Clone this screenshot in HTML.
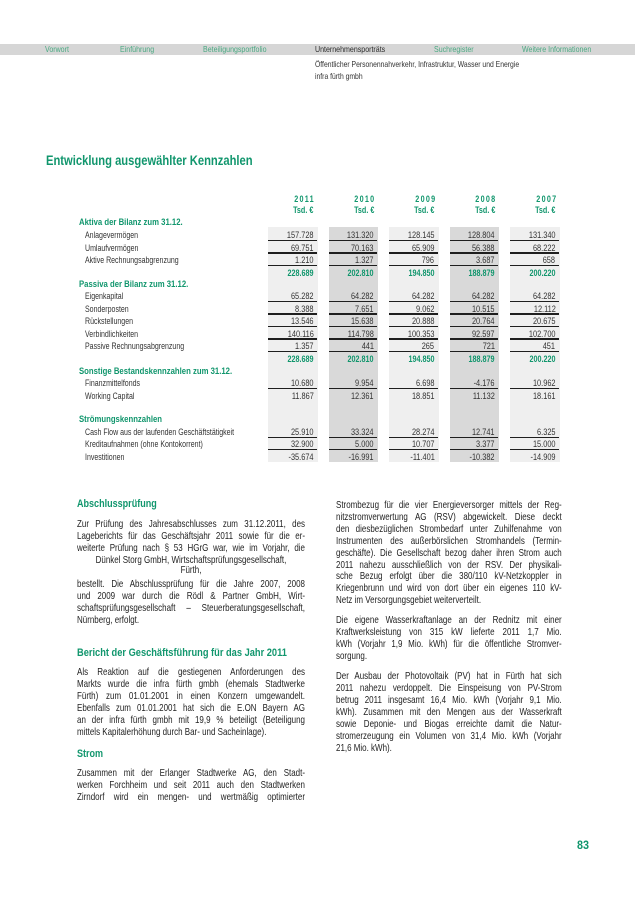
<!DOCTYPE html>
<html><head><meta charset="utf-8">
<style>
body{margin:0;width:635px;height:898px;background:#fff;position:relative;overflow:hidden;font-family:"Liberation Sans",Arial,sans-serif;color:#2a2a2a}
.a{position:absolute;white-space:nowrap}
.nav{position:absolute;top:44px;line-height:11px;font-size:8.5px;color:#4aa982;transform:scaleX(.83);transform-origin:0 0;white-space:nowrap}
.sub{position:absolute;left:315px;font-size:8.5px;line-height:12px;color:#333;transform:scaleX(.8);transform-origin:0 0;white-space:nowrap}
.bg{position:absolute;top:227px;height:235px;width:49.5px}
.r{position:absolute;left:0;width:635px;height:12px}
.r span{position:absolute;top:0;line-height:12px;font-size:9px;white-space:nowrap}
.lb{left:85px;transform:scaleX(.78);transform-origin:0 0;color:#333}
.hd{left:79px;transform:scaleX(.86);transform-origin:0 0;color:#11966d;font-weight:bold}
.n{transform:scaleX(.82);transform-origin:100% 0;color:#333}
.tt .n{font-weight:bold;color:#11966d;transform:scaleX(.8)}
.yr .n{font-weight:bold;color:#11966d;transform:scaleX(.8)}
.c1{right:321.5px}.c2{right:261px}.c3{right:200.5px}.c4{right:140px}.c5{right:79.5px}
.u{position:absolute;top:10.8px;height:1.3px;width:48.5px;background:#1e1e1e}
.u1{left:268px}.u2{left:328.5px}.u3{left:389px}.u4{left:449.5px}.u5{left:510px}
.col{position:absolute;top:0;height:898px;transform:scaleX(.76);transform-origin:0 0;font-size:10.5px;color:#222}
.col div{position:absolute;left:0;width:100%;height:12px;line-height:12px;text-align:justify;text-align-last:justify;white-space:normal}
.col div.l{text-align:left;text-align-last:left}
.col div.c{text-align:center;text-align-last:center}
.col div.h{font-size:11px;font-weight:bold;color:#11966d;line-height:14px;height:14px;text-align:left;text-align-last:left;transform:scaleX(1.08);transform-origin:0 0;white-space:nowrap}
</style></head><body>

<div class="a" style="left:0;top:44px;width:635px;height:11px;background:#d6d6d6"></div>
<div class="nav" style="left:45px">Vorwort</div>
<div class="nav" style="left:120px">Einführung</div>
<div class="nav" style="left:203px">Beteiligungsportfolio</div>
<div class="nav" style="left:315px;color:#2a2a2a">Unternehmensporträts</div>
<div class="nav" style="left:434px">Suchregister</div>
<div class="nav" style="left:522px">Weitere Informationen</div>
<div class="sub" style="top:58px">Öffentlicher Personennahverkehr, Infrastruktur, Wasser und Energie</div>
<div class="sub" style="top:70px">infra fürth gmbh</div>

<div class="a" style="left:46px;top:151px;font-size:14px;line-height:18px;font-weight:bold;color:#11966d;transform:scaleX(.8);transform-origin:0 0">Entwicklung ausgewählter Kennzahlen</div>

<div class="bg" style="left:268px;background:#efefef"></div>
<div class="bg" style="left:328.5px;background:#d9d9d9"></div>
<div class="bg" style="left:389px;background:#efefef"></div>
<div class="bg" style="left:449.5px;background:#d9d9d9"></div>
<div class="bg" style="left:510px;background:#efefef"></div>

<div class="r yr" style="top:193px"><span class="n c1" style="letter-spacing:1.6px;margin-right:-1.6px">2011</span><span class="n c2" style="letter-spacing:1.6px;margin-right:-1.6px">2010</span><span class="n c3" style="letter-spacing:1.6px;margin-right:-1.6px">2009</span><span class="n c4" style="letter-spacing:1.6px;margin-right:-1.6px">2008</span><span class="n c5" style="letter-spacing:1.6px;margin-right:-1.6px">2007</span></div>
<div class="r yr" style="top:204px"><span class="n c1">Tsd. €</span><span class="n c2">Tsd. €</span><span class="n c3">Tsd. €</span><span class="n c4">Tsd. €</span><span class="n c5">Tsd. €</span></div>

<div class="r" style="top:215.7px"><span class="hd">Aktiva der Bilanz zum 31.12.</span></div>
<div class="r" style="top:229px"><span class="lb">Anlagevermögen</span><span class="n c1">157.728</span><span class="n c2">131.320</span><span class="n c3">128.145</span><span class="n c4">128.804</span><span class="n c5">131.340</span><i class="u u1"></i><i class="u u2"></i><i class="u u3"></i><i class="u u4"></i><i class="u u5"></i></div>
<div class="r" style="top:241.7px"><span class="lb">Umlaufvermögen</span><span class="n c1">69.751</span><span class="n c2">70.163</span><span class="n c3">65.909</span><span class="n c4">56.388</span><span class="n c5">68.222</span><i class="u u1"></i><i class="u u2"></i><i class="u u3"></i><i class="u u4"></i><i class="u u5"></i></div>
<div class="r" style="top:254.3px"><span class="lb">Aktive Rechnungsabgrenzung</span><span class="n c1">1.210</span><span class="n c2">1.327</span><span class="n c3">796</span><span class="n c4">3.687</span><span class="n c5">658</span><i class="u u1"></i><i class="u u2"></i><i class="u u3"></i><i class="u u4"></i><i class="u u5"></i></div>
<div class="r tt" style="top:266.6px"><span class="n c1">228.689</span><span class="n c2">202.810</span><span class="n c3">194.850</span><span class="n c4">188.879</span><span class="n c5">200.220</span></div>

<div class="r" style="top:278px"><span class="hd">Passiva der Bilanz zum 31.12.</span></div>
<div class="r" style="top:290px"><span class="lb">Eigenkapital</span><span class="n c1">65.282</span><span class="n c2">64.282</span><span class="n c3">64.282</span><span class="n c4">64.282</span><span class="n c5">64.282</span><i class="u u1"></i><i class="u u2"></i><i class="u u3"></i><i class="u u4"></i><i class="u u5"></i></div>
<div class="r" style="top:302.6px"><span class="lb">Sonderposten</span><span class="n c1">8.388</span><span class="n c2">7.651</span><span class="n c3">9.062</span><span class="n c4">10.515</span><span class="n c5">12.112</span><i class="u u1"></i><i class="u u2"></i><i class="u u3"></i><i class="u u4"></i><i class="u u5"></i></div>
<div class="r" style="top:315.3px"><span class="lb">Rückstellungen</span><span class="n c1">13.546</span><span class="n c2">15.638</span><span class="n c3">20.888</span><span class="n c4">20.764</span><span class="n c5">20.675</span><i class="u u1"></i><i class="u u2"></i><i class="u u3"></i><i class="u u4"></i><i class="u u5"></i></div>
<div class="r" style="top:327.7px"><span class="lb">Verbindlichkeiten</span><span class="n c1">140.116</span><span class="n c2">114.798</span><span class="n c3">100.353</span><span class="n c4">92.597</span><span class="n c5">102.700</span><i class="u u1"></i><i class="u u2"></i><i class="u u3"></i><i class="u u4"></i><i class="u u5"></i></div>
<div class="r" style="top:340.3px"><span class="lb">Passive Rechnungsabgrenzung</span><span class="n c1">1.357</span><span class="n c2">441</span><span class="n c3">265</span><span class="n c4">721</span><span class="n c5">451</span><i class="u u1"></i><i class="u u2"></i><i class="u u3"></i><i class="u u4"></i><i class="u u5"></i></div>
<div class="r tt" style="top:353px"><span class="n c1">228.689</span><span class="n c2">202.810</span><span class="n c3">194.850</span><span class="n c4">188.879</span><span class="n c5">200.220</span></div>

<div class="r" style="top:364.7px"><span class="hd">Sonstige Bestandskennzahlen zum 31.12.</span></div>
<div class="r" style="top:377px"><span class="lb">Finanzmittelfonds</span><span class="n c1">10.680</span><span class="n c2">9.954</span><span class="n c3">6.698</span><span class="n c4">-4.176</span><span class="n c5">10.962</span><i class="u u1"></i><i class="u u2"></i><i class="u u3"></i><i class="u u4"></i><i class="u u5"></i></div>
<div class="r" style="top:390px"><span class="lb">Working Capital</span><span class="n c1">11.867</span><span class="n c2">12.361</span><span class="n c3">18.851</span><span class="n c4">11.132</span><span class="n c5">18.161</span></div>

<div class="r" style="top:413px"><span class="hd">Strömungskennzahlen</span></div>
<div class="r" style="top:426px"><span class="lb">Cash Flow aus der laufenden Geschäftstätigkeit</span><span class="n c1">25.910</span><span class="n c2">33.324</span><span class="n c3">28.274</span><span class="n c4">12.741</span><span class="n c5">6.325</span><i class="u u1"></i><i class="u u2"></i><i class="u u3"></i><i class="u u4"></i><i class="u u5"></i></div>
<div class="r" style="top:438.3px"><span class="lb">Kreditaufnahmen (ohne Kontokorrent)</span><span class="n c1">32.900</span><span class="n c2">5.000</span><span class="n c3">10.707</span><span class="n c4">3.377</span><span class="n c5">15.000</span><i class="u u1"></i><i class="u u2"></i><i class="u u3"></i><i class="u u4"></i><i class="u u5"></i></div>
<div class="r" style="top:450.7px"><span class="lb">Investitionen</span><span class="n c1">-35.674</span><span class="n c2">-16.991</span><span class="n c3">-11.401</span><span class="n c4">-10.382</span><span class="n c5">-14.909</span></div>

<div class="col" style="left:77px;width:300px">
<div class="h" style="top:497px">Abschlussprüfung</div>
<div style="top:518px">Zur Prüfung des Jahresabschlusses zum 31.12.2011, des</div>
<div style="top:529.9px">Lageberichts für das Geschäftsjahr 2011 sowie für die er-</div>
<div style="top:541.8px">weiterte Prüfung nach § 53 HGrG war, wie im Vorjahr, die</div>
<div class="c" style="top:554px">Dünkel Storg GmbH, Wirtschaftsprüfungsgesellschaft,</div>
<div class="c" style="top:564px">Fürth,</div>
<div style="top:578.3px">bestellt. Die Abschlussprüfung für die Jahre 2007, 2008</div>
<div style="top:590.2px">und 2009 war durch die Rödl &amp; Partner GmbH, Wirt-</div>
<div style="top:602.1px">schaftsprüfungsgesellschaft – Steuerberatungsgesellschaft,</div>
<div class="l" style="top:614px">Nürnberg, erfolgt.</div>
<div class="h" style="top:646px;transform:scaleX(1.11)">Bericht der Geschäftsführung für das Jahr 2011</div>
<div style="top:666px">Als Reaktion auf die gestiegenen Anforderungen des</div>
<div style="top:677.9px">Markts wurde die infra fürth gmbh (ehemals Stadtwerke</div>
<div style="top:689.8px">Fürth) zum 01.01.2001 in einen Konzern umgewandelt.</div>
<div style="top:701.7px">Ebenfalls zum 01.01.2001 hat sich die E.ON Bayern AG</div>
<div style="top:713.6px">an der infra fürth gmbh mit 19,9 % beteiligt (Beteiligung</div>
<div class="l" style="top:725.5px">mittels Kapitalerhöhung durch Bar- und Sacheinlage).</div>
<div class="h" style="top:746.6px">Strom</div>
<div style="top:767.1px">Zusammen mit der Erlanger Stadtwerke AG, den Stadt-</div>
<div style="top:779px">werken Forchheim und seit 2011 auch den Stadtwerken</div>
<div style="top:790.9px">Zirndorf wird ein mengen- und wertmäßig optimierter</div>
</div>

<div class="col" style="left:336px;width:297px">
<div style="top:499px">Strombezug für die vier Energieversorger mittels der Reg-</div>
<div style="top:510.9px">nitzstromverwertung AG (RSV) abgewickelt. Diese deckt</div>
<div style="top:522.8px">den diesbezüglichen Strombedarf unter Zuhilfenahme von</div>
<div style="top:534.7px">Instrumenten des außerbörslichen Stromhandels (Termin-</div>
<div style="top:546.6px">geschäfte). Die Gesellschaft bezog daher ihren Strom auch</div>
<div style="top:558.5px">2011 nahezu ausschließlich von der RSV. Der physikali-</div>
<div style="top:570.4px">sche Bezug erfolgt über die 380/110 kV-Netzkoppler in</div>
<div style="top:582.3px">Kriegenbrunn und wird von dort über ein eigenes 110 kV-</div>
<div class="l" style="top:594.2px">Netz im Versorgungsgebiet weiterverteilt.</div>
<div style="top:614.3px">Die eigene Wasserkraftanlage an der Rednitz mit einer</div>
<div style="top:626.2px">Kraftwerksleistung von 315 kW lieferte 2011 1,7 Mio.</div>
<div style="top:638.1px">kWh (Vorjahr 1,9 Mio. kWh) für die öffentliche Stromver-</div>
<div class="l" style="top:650px">sorgung.</div>
<div style="top:670.1px">Der Ausbau der Photovoltaik (PV) hat in Fürth hat sich</div>
<div style="top:682px">2011 nahezu verdoppelt. Die Einspeisung von PV-Strom</div>
<div style="top:693.9px">betrug 2011 insgesamt 16,4 Mio. kWh (Vorjahr 9,1 Mio.</div>
<div style="top:705.8px">kWh). Zusammen mit den Mengen aus der Wasserkraft</div>
<div style="top:717.7px">sowie Deponie- und Biogas erreichte damit die Natur-</div>
<div style="top:729.6px">stromerzeugung ein Volumen von 31,4 Mio. kWh (Vorjahr</div>
<div class="l" style="top:741.5px">21,6 Mio. kWh).</div>
</div>

<div class="a" style="left:577px;top:838px;font-size:12px;line-height:14px;font-weight:bold;color:#11966d;transform:scaleX(.9);transform-origin:0 0">83</div>
</body></html>
